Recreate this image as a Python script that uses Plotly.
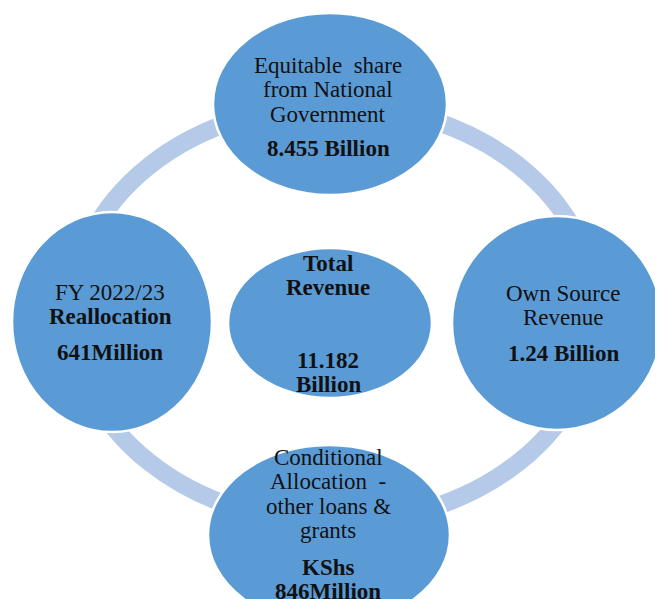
import plotly.graph_objects as go

# ---- data ----
node_names = ["Equitable share", "Own Source Revenue", "Conditional Allocation",
              "FY 2022/23 Reallocation", "Total Revenue"]
node_label_lines = [
    ["Equitable\u00a0 share", "from National", "Government"],
    ["Own Source", "Revenue"],
    ["Conditional", "Allocation\u00a0 -", "other loans &", "grants"],
    ["FY 2022/23", "<b>Reallocation</b>"],
    ["<b>Total</b>", "<b>Revenue</b>"],
]
node_value_lines = [
    ["8.455 Billion"],
    ["1.24 Billion"],
    ["KShs", "846Million"],
    ["641Million"],
    ["11.182", "Billion"],
]

# ---- layout geometry (pixels of the 663x599 window; page has an 8px body margin) ----
W, H = 663, 599
PAD = 8
ellipses = [  # cx, cy, rx, ry
    (330, 104, 117, 91),
    (557, 323, 105, 107),
    (329, 535, 121, 90),
    (112, 322, 100, 110),
    (330, 323, 102, 75),
]
label_y0 = [65, 293, 457, 292, 263]
value_y0 = [148, 353, 567, 352, 360]
text_x = [328, 563, 328, 110, 328]
line_gap = 24.5
ring = (334, 314, 262, 209)
ring_w = 18

fig = go.Figure()
fig.add_trace(go.Scatter(x=[PAD, W], y=[PAD, H], mode="markers",
                         marker=dict(opacity=0), hoverinfo="skip", showlegend=False))

shapes = []
cx, cy, rx, ry = ring
shapes.append(dict(type="circle", xref="x", yref="y", x0=cx - rx, x1=cx + rx,
                   y0=cy - ry, y1=cy + ry, line=dict(color="#b5c9e8", width=ring_w),
                   fillcolor="rgba(0,0,0,0)", layer="above"))
for (ex, ey, erx, ery) in ellipses:
    shapes.append(dict(type="circle", xref="x", yref="y", x0=ex - erx, x1=ex + erx,
                       y0=ey - ery, y1=ey + ery, fillcolor="#5b9bd5",
                       line=dict(color="white", width=2.5), layer="above"))

annotations = []
font = dict(family="Liberation Serif, Times New Roman, serif", size=23, color="#111111")
for i, name in enumerate(node_names):
    for j, t in enumerate(node_label_lines[i]):
        annotations.append(dict(x=text_x[i], y=label_y0[i] + j * line_gap, text=t,
                                showarrow=False, xanchor="center", yanchor="middle",
                                font=font, xref="x", yref="y"))
    for j, t in enumerate(node_value_lines[i]):
        annotations.append(dict(x=text_x[i], y=value_y0[i] + j * line_gap, text="<b>" + t + "</b>",
                                showarrow=False, xanchor="center", yanchor="middle",
                                font=font, xref="x", yref="y"))

fig.update_layout(
    width=W - PAD, height=H - PAD, margin=dict(l=0, r=0, t=0, b=0),
    paper_bgcolor="white", plot_bgcolor="white",
    xaxis=dict(range=[PAD, W], visible=False, fixedrange=True),
    yaxis=dict(range=[H, PAD], visible=False, fixedrange=True),
    shapes=shapes, annotations=annotations, showlegend=False,
)
fig.write_html("out.html")
